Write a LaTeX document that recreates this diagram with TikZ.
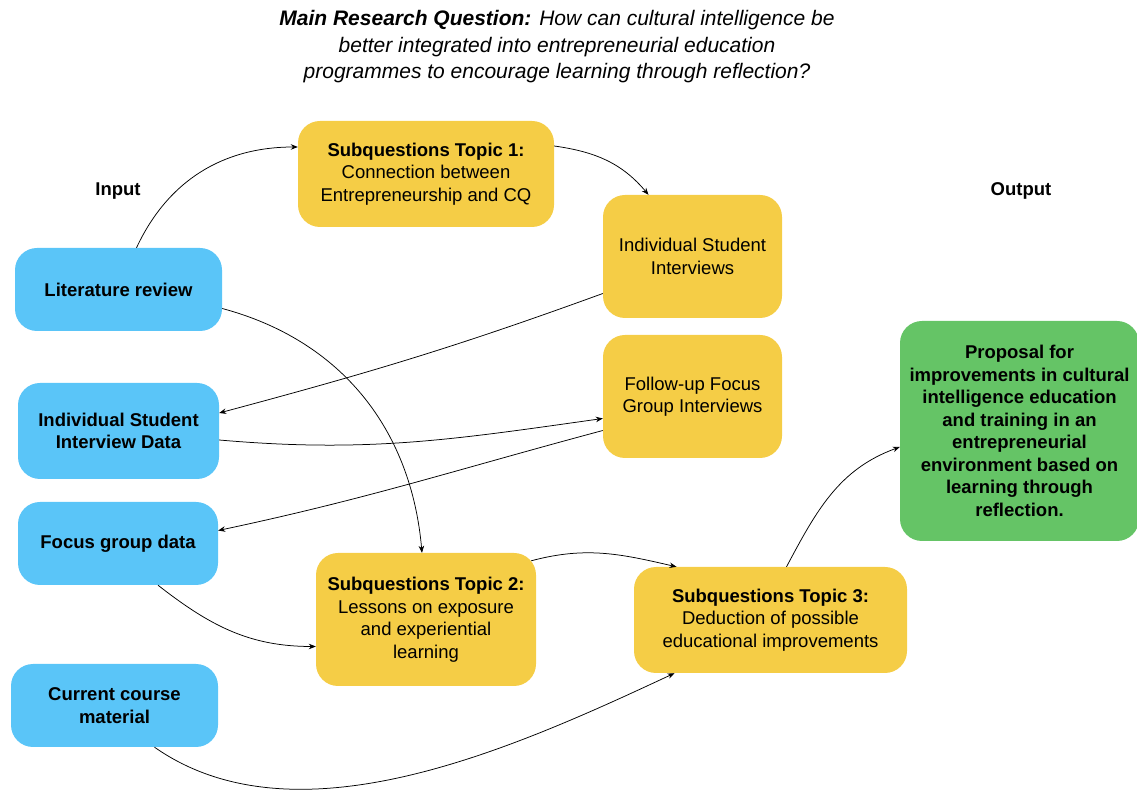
\documentclass[tikz,border=0pt]{standalone}
\usepackage{fontspec}
\setmainfont{Liberation Sans}
\usetikzlibrary{arrows.meta}

\definecolor{inblue}{RGB}{90,197,248}
\definecolor{subyellow}{RGB}{245,205,70}
\definecolor{outgreen}{RGB}{101,196,102}

\tikzset{
  box/.style={rounded corners=22pt, align=center, inner sep=0pt,
    font=\fontsize{18.5}{22.5}\selectfont},
  inbox/.style={box, fill=inblue, font=\fontsize{18.5}{22.5}\selectfont\bfseries},
  subbox/.style={box, fill=subyellow},
  outbox/.style={box, fill=outgreen, font=\fontsize{18.5}{22.5}\selectfont\bfseries},
  link/.style={line width=0.75pt, -{Stealth[length=7pt,width=5.5pt]}},
}

\begin{document}
\begin{tikzpicture}[x=1pt,y=1pt]
%\draw[step=50,gray,very thin] (0,0) grid (1137,792);
\useasboundingbox (0,0) rectangle (1137,792);

\node[align=center, font=\fontsize{21}{26.5}\selectfont\itshape] (title) at (557,745)
  {\textbf{Main Research Question:} How can cultural intelligence be\\
   better integrated into entrepreneurial education\\
   programmes to encourage learning through reflection?};

\node[font=\fontsize{18.5}{22.5}\selectfont\bfseries] (input) at (118,601) {Input};
\node[font=\fontsize{18.5}{22.5}\selectfont\bfseries] (output) at (1021,601) {Output};

% inputs
\node[inbox, minimum width=207, minimum height=83] (lit) at (118.5,502.5) {Literature review};
\node[inbox, minimum width=201, minimum height=96] (data) at (118.5,361) {Individual Student\\Interview Data};
\node[inbox, minimum width=200, minimum height=83] (focus) at (118,248.5) {Focus group data};
\node[inbox, minimum width=207, minimum height=83] (course) at (114.5,86.5) {Current course\\material};

% subquestions
\node[subbox, minimum width=256, minimum height=106] (topic1) at (426,618)
  {\textbf{Subquestions Topic 1:}\\Connection between\\Entrepreneurship and CQ};
\node[subbox, minimum width=179, minimum height=123] (interviews) at (692.5,535.5)
  {Individual Student\\Interviews};
\node[subbox, minimum width=179, minimum height=123] (followup) at (692.5,395.5)
  {Follow-up Focus\\Group Interviews};
\node[subbox, minimum width=220, minimum height=133] (topic2) at (426,172.5)
  {\textbf{Subquestions Topic 2:}\\Lessons on exposure\\and experiential\\learning};
\node[subbox, minimum width=273, minimum height=106] (topic3) at (770.5,172)
  {\textbf{Subquestions Topic 3:}\\Deduction of possible\\educational improvements};

% output
\node[outbox, minimum width=239, minimum height=220] (proposal) at (1019.5,361)
  {Proposal for\\improvements in cultural\\intelligence education\\and training in an\\entrepreneurial\\environment based on\\learning through\\reflection.};

\draw[link] ([xshift=18pt]lit.north) to[out=65,in=180] ([yshift=27pt]topic1.west);
\draw[link] ([yshift=28pt]topic1.east) to[out=-8,in=130] ([xshift=-44pt]interviews.north);
\draw[link] ([yshift=-37pt]interviews.west) to[out=200,in=15] ([yshift=18pt]data.east);
\draw[link] ([yshift=-9pt]data.east) to[out=-5,in=188] ([yshift=-22pt]followup.west);
\draw[link] ([yshift=-34pt]followup.west) to[out=195,in=12] ([yshift=13pt]focus.east);
\draw[link] ([yshift=-19pt]lit.east) to[out=-15,in=95] ([xshift=-4pt]topic2.north);
\draw[link] ([xshift=40pt]focus.south) to[out=-38,in=180] ([yshift=-27pt]topic2.west);
\draw[link] ([xshift=-5pt,yshift=-8pt]topic2.north east) to[out=15,in=167] ([xshift=-94pt]topic3.north);
\draw[link] ([xshift=40pt]course.south) to[out=-35,in=-155,looseness=0.85] ([xshift=-96pt]topic3.south);
\draw[link] ([xshift=16pt]topic3.north) to[out=62,in=200] ([yshift=-16pt]proposal.west);

\end{tikzpicture}
\end{document}
